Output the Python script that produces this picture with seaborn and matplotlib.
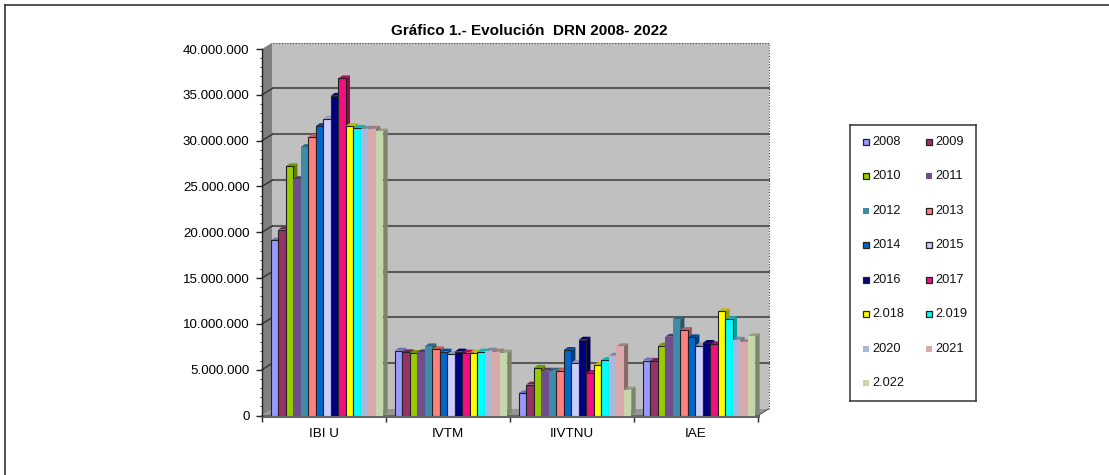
import pandas as pd
import matplotlib
matplotlib.use("Agg")
import matplotlib.pyplot as plt
from matplotlib.patches import Polygon, Rectangle
from matplotlib.colors import to_rgb
from matplotlib.ticker import FuncFormatter, MultipleLocator
import seaborn as sns

# values, in millions
categories = ["IBI U", "IVTM", "IIVTNU", "IAE"]
years = ["2008", "2009", "2010", "2011", "2012", "2013", "2014", "2015",
         "2016", "2017", "2.018", "2.019", "2020", "2021", "2.022"]
ibi = [19.1, 20.3, 27.2, 25.8, 29.3, 30.4, 31.6, 32.4, 34.9, 36.8, 31.6, 31.4, 31.3, 31.3, 31.0]
ivtm = [7.08, 6.9, 6.83, 6.9, 7.55, 7.23, 6.98, 6.72, 6.98, 6.87, 6.87, 6.98, 7.08, 6.98, 6.87]
iivtnu = [2.43, 3.38, 5.2, 4.9, 4.9, 4.9, 7.16, 5.74, 8.28, 4.65, 5.52, 6.07, 6.54, 7.56, 2.83]
iae = [6.0, 5.96, 7.63, 8.6, 10.5, 9.34, 8.54, 7.63, 7.92, 7.77, 11.37, 10.5, 8.28, 8.0, 8.65]
colors = ["#9999FF", "#993366", "#99CC00", "#6E4E8C", "#3E8CA8", "#FF8080", "#0066CC", "#CCCCFF",
          "#000080", "#F0107E", "#FFFF00", "#00FFFF", "#A9B8D8", "#D9AAAA", "#C6D6AC"]
no_edge = ["2011", "2012", "2020", "2021", "2.022"]

rows = []
for cat, vals in zip(categories, [ibi, ivtm, iivtnu, iae]):
    for y, v in zip(years, vals):
        rows.append({"cat": cat, "year": y, "value": v * 1e6})
df = pd.DataFrame(rows)

W, H = 1109, 475
plt.rcParams["font.family"] = ["Liberation Sans", "DejaVu Sans"]
fig = plt.figure(figsize=(W / 100, H / 100), dpi=100)


def box(x0, y0, x1, y1):
    return [x0 / W, 1 - y1 / H, (x1 - x0) / W, (y1 - y0) / H]


# outer frame of the sheet, only left and top are in the crop
fig.add_artist(plt.Line2D([5 / W, 5 / W], [0, 1 - 4.5 / H], color="#333333", lw=1.2))
fig.add_artist(plt.Line2D([5 / W, 1], [1 - 4.5 / H, 1 - 4.5 / H], color="#333333", lw=1.2))

ax = fig.add_axes(box(262, 49, 758, 415.5))
ax.patch.set_visible(False)
sns.barplot(data=df, x="cat", y="value", hue="year", hue_order=years, order=categories,
            palette=colors, width=0.91, gap=0, saturation=1, legend=False, ax=ax, zorder=5)

shift = 3 / 124  # the bars stand a bit behind the front edge
ax.set_xlim(-0.5 - shift, 3.5 - shift)
ax.set_ylim(0, 40e6)
sx = (ax.get_xlim()[1] - ax.get_xlim()[0]) / 496
sy = 40e6 / 366.5


def faces(pts, **kw):
    ax.add_patch(Polygon(pts, closed=True, clip_on=False, **kw))


# walls of the fake 3d box
x0, x1 = ax.get_xlim()
wx, wy = 10.5 * sx, 6.5 * sy
faces([(x0 + wx, wy), (x1 + wx, wy), (x1 + wx, 40e6 + wy), (x0 + wx, 40e6 + wy)],
      facecolor="#C0C0C0", edgecolor="none", zorder=1)
faces([(x0, 0), (x0 + wx, wy), (x0 + wx, 40e6 + wy), (x0, 40e6)], facecolor="#808080", edgecolor="none", zorder=1)
faces([(x0, 0), (x1, 0), (x1 + wx, wy), (x0 + wx, wy)], facecolor="#969696", edgecolor="none", zorder=1)
ax.plot([x0 + wx, x1 + wx, x1 + wx], [40e6 + wy, 40e6 + wy, wy], color="#444444", lw=0.8, ls=(0, (1, 1.5)),
        clip_on=False, zorder=2)
ax.plot([x0, x1 + 0.001], [0, 0], color="#666666", lw=2.2, clip_on=False, zorder=4)
ax.plot([x1, x1 + wx], [0, wy], color="#555555", lw=0.8, clip_on=False, zorder=4)
for t in range(5, 40, 5):
    v = t * 1e6
    ax.plot([x0 + wx, x1 + wx], [v + wy, v + wy], color="#5a5a5a", lw=1.5, clip_on=False, zorder=2)
    ax.plot([x0, x0 + wx], [v, v + wy], color="#333333", lw=1, clip_on=False, zorder=2)

# every bar gets a top and a side face, later bars cover the earlier ones
dx, dy = 4.2 * sx, 2.9 * sy
for i, cont in enumerate(ax.containers):
    c = to_rgb(colors[i])
    edged = years[i] not in no_edge
    for bar in cont:
        bx, bw, bh = bar.get_x(), bar.get_width(), bar.get_height()
        z = 5 + i * 0.1
        bar.set_zorder(z)
        bar.set_edgecolor("#222222" if edged else "none")
        bar.set_linewidth(0.8 if edged else 0)
        faces([(bx + bw, 0), (bx + bw + dx, dy), (bx + bw + dx, bh + dy), (bx + bw, bh)],
              facecolor=[k * 0.62 for k in c], edgecolor="none", zorder=z - 0.01)
        faces([(bx, bh), (bx + dx, bh + dy), (bx + bw + dx, bh + dy), (bx + bw, bh)],
              facecolor=[k * 0.74 for k in c], edgecolor="none", zorder=z - 0.01)

ax.set_xlabel("")
ax.set_ylabel("")
ax.yaxis.set_major_locator(MultipleLocator(5e6))
ax.yaxis.set_minor_locator(MultipleLocator(1e6))
ax.yaxis.set_major_formatter(FuncFormatter(lambda v, p: f"{int(v):,}".replace(",", ".")))
ax.tick_params(axis="y", which="major", length=4, width=1, labelsize=9.6, pad=5, color="#222222")
ax.tick_params(axis="y", which="minor", length=1.5, width=0.6, color="#222222")
ax.set_xticks([-0.5 - shift + k for k in range(5)])
ax.set_xticklabels([])
ax.set_xticks([k + 0.0 - shift for k in range(4)], categories, minor=True)
ax.tick_params(axis="x", which="major", length=4, width=1, color="#222222")
ax.tick_params(axis="x", which="minor", length=0, labelsize=9.7, pad=9)
for s in ["top", "right", "bottom"]:
    ax.spines[s].set_visible(False)
ax.spines["left"].set_color("#222222")
ax.spines["left"].set_linewidth(1)
ax.spines["left"].set_zorder(4)
fig.text(529 / W, 1 - 31 / H, "Gráfico 1.- Evolución  DRN 2008- 2022", ha="center", va="center",
         fontsize=11, fontweight="bold")

# legend box, handmade to keep the two column grid of the picture
lax = fig.add_axes(box(850.5, 124.5, 976, 401))
lax.set_xlim(850.5, 976)
lax.set_ylim(401, 124.5)
lax.set_xticks([])
lax.set_yticks([])
for s in lax.spines.values():
    s.set_linewidth(1.1)
    s.set_color("#333333")
for i, y in enumerate(years):
    col, row = i % 2, i // 2
    lx = 863 + col * 63
    ly = 141.5 + row * 34.5
    edged = y not in no_edge
    lax.add_patch(Rectangle((lx, ly - 3), 6, 6, facecolor=colors[i],
                            edgecolor="#222222" if edged else "none", lw=0.9))
    lax.text(lx + 9, ly, y, fontsize=9.2, va="center", ha="left", color="#111111")

fig.savefig("out.png", dpi=100)
